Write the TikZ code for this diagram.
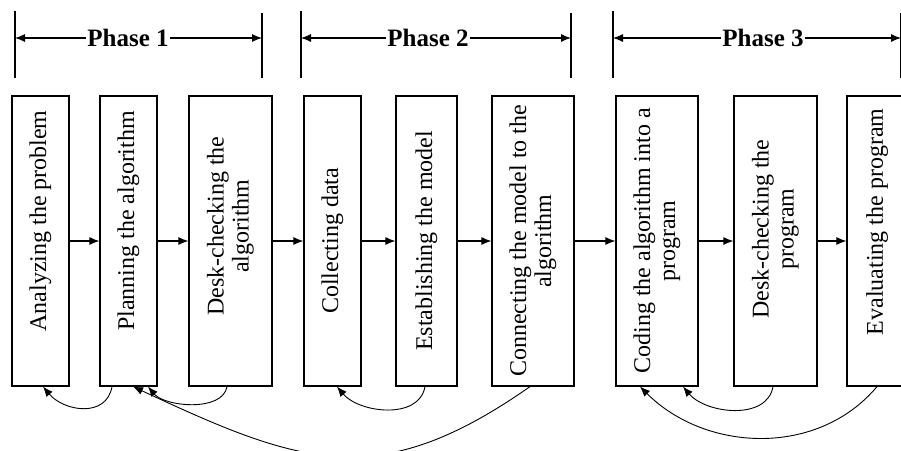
\documentclass[tikz,border=0pt]{standalone}
\usepackage{fontspec}
\setmainfont{Liberation Serif}
\usetikzlibrary{arrows.meta}
\tikzset{
  box/.style={draw, line width=1.2pt, minimum height=290pt, inner sep=0pt},
  txt/.style={rotate=90, align=center, font=\fontsize{24}{25}\selectfont},
  flow/.style={line width=1.1pt, -{Latex[length=10pt,width=8pt]}},
  back/.style={line width=0.9pt, -{Latex[length=10pt,width=8pt]}},
  phase/.style={font=\fontsize{25}{26}\selectfont\bfseries, inner sep=1pt},
  bar/.style={line width=1.2pt}
}

\begin{document}
\begin{tikzpicture}[x=1pt,y=1pt]
\clip (0,0) rectangle (901,-450);
% phase markers
\foreach \p/\l/\r/\c in {1/15/262/128, 2/301/571/428, 3/613/901/763}{
  \draw[bar] (\l,-11) -- (\l,-78);
  \draw[bar] (\r,-13) -- (\r,-78);
  \coordinate (l\p) at (\l,-38);
  \coordinate (r\p) at (\r,-38);
  \node[phase] (ph\p) at (\c,-38) {Phase \p};
  \draw[flow] (ph\p) -- (l\p);
  \draw[flow] (ph\p) -- (r\p);
}
% steps
\foreach \n/\x/\w/\dy/\lab in {
  1/40.5/57/20/{Analyzing the problem},
  2/128.5/57/20/{Planning the algorithm},
  3/230.5/83/15/{Desk-checking the\\algorithm},
  4/332.5/57/0/{Collecting data},
  5/426.5/61/0/{Establishing the model},
  6/533/82/0/{Connecting the model to the\\algorithm},
  7/657/82/0/{Coding the algorithm into a\\program},
  8/775.5/83/12/{Desk-checking the\\program},
  9/877/60/19/{Evaluating the program}}{
  \node[box, minimum width=\w pt] (b\n) at (\x,-241) {};
  \node[txt] (t\n) at ([yshift=\dy pt]b\n.center) {\lab};
}
\foreach \a/\b in {1/2,2/3,3/4,4/5,5/6,6/7,7/8,8/9}
  \draw[flow] (b\a) -- (b\b);
% going back
\draw[back] ([xshift=-16.5]b2.south) to[out=-100,in=-50,looseness=1.2] ([xshift=2.5]b1.south);
\draw[back] ([xshift=-3.5]b3.south) to[out=-100,in=-50,looseness=0.85] ([xshift=19.5]b2.south);
\draw[back] ([xshift=-3]b6.south) to[out=-145,in=-25,looseness=1.2] ([xshift=4.5]b2.south);
\draw[back] ([xshift=-1.5]b5.south) to[out=-100,in=-50] ([xshift=4.5]b4.south);
\draw[back] ([xshift=-2.5]b8.south) to[out=-100,in=-50] ([xshift=26]b7.south);
\draw[back] (b9.south) to[out=-130,in=-45] ([xshift=-17]b7.south);
\end{tikzpicture}
\end{document}
